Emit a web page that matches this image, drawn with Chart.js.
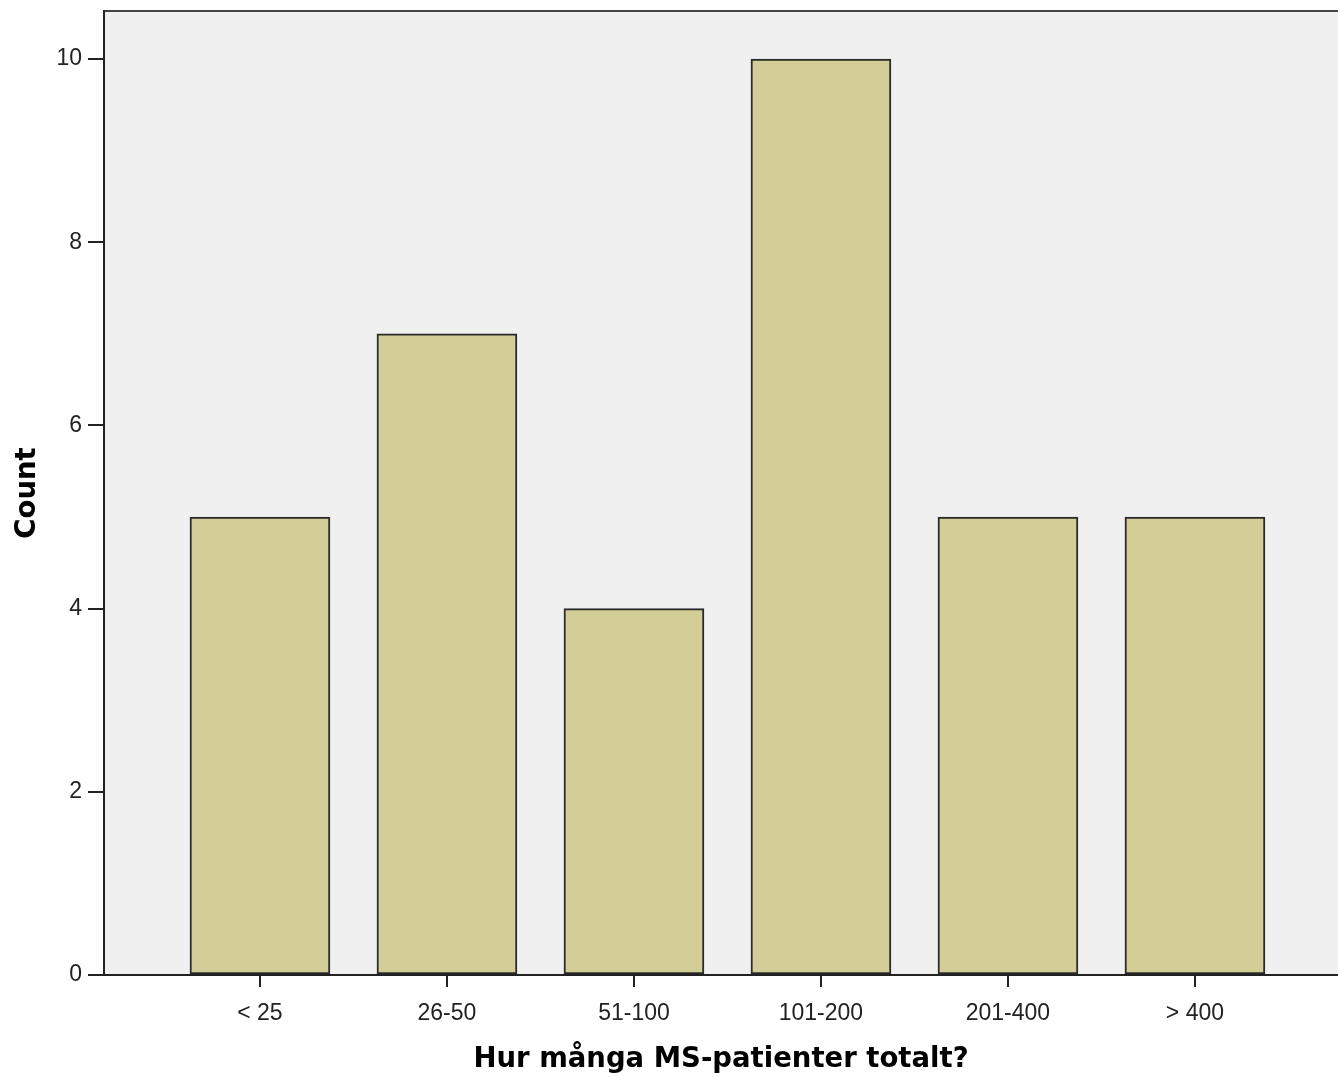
<!DOCTYPE html>
<html>
<head>
<meta charset="utf-8">
<script src="https://cdn.jsdelivr.net/npm/chart.js@4/dist/chart.umd.min.js"></script>
<style>
  html, body { margin: 0; padding: 0; background: #fff; overflow: hidden; }
  #wrap { width: 1338px; height: 1077px; position: relative; }
</style>
</head>
<body>
<div id="wrap"><canvas id="chart"></canvas></div>
<script>
// data
const categories = ['< 25', '26-50', '51-100', '101-200', '201-400', '> 400'];
const counts = [5, 7, 4, 10, 5, 5];
const yTicks = [0, 2, 4, 6, 8, 10];
const xTitle = 'Hur många MS-patienter totalt?';
const yTitle = 'Count';

// plot background + top frame line
const plotFrame = {
  id: 'plotFrame',
  beforeDraw(chart) {
    const { ctx, chartArea: a } = chart;
    ctx.save();
    ctx.fillStyle = '#f0f0f0';
    ctx.fillRect(a.left, a.top, a.right - a.left, a.bottom - a.top);
    ctx.strokeStyle = '#444';
    ctx.lineWidth = 2;
    ctx.beginPath();
    ctx.moveTo(a.left, a.top);
    ctx.lineTo(a.right, a.top);
    ctx.stroke();
    ctx.restore();
  }
};

const tickFont = { family: '"Liberation Sans", Arial, sans-serif', size: 23 };
const titleFont = { family: '"DejaVu Sans", Verdana, sans-serif', size: 27.5, weight: 'bold' };

new Chart(document.getElementById('chart'), {
  type: 'bar',
  data: {
    datasets: [{
      data: counts.map((v, i) => ({ x: i, y: v })),
      backgroundColor: '#d3ce98',
      borderColor: '#2a2a2a',
      borderWidth: 2,
      borderSkipped: false,
      barThickness: 140
    }]
  },
  options: {
    responsive: true,
    maintainAspectRatio: false,
    animation: false,
    layout: { padding: { top: 11, right: 0, bottom: 0, left: 0 } },
    plugins: { legend: { display: false }, tooltip: { enabled: false } },
    scales: {
      x: {
        type: 'linear',
        offset: false,
        min: -0.834,
        max: 5.765,
        afterBuildTicks: s => { s.ticks = categories.map((c, i) => ({ value: i })); },
        afterFit: s => { s.height = 102; s.paddingLeft = 0; s.paddingRight = 0; },
        ticks: {
          callback: v => categories[Math.round(v)],
          font: tickFont,
          color: '#222',
          padding: 13,
          maxRotation: 0,
          autoSkip: false
        },
        grid: { offset: false, drawOnChartArea: false, tickLength: 12, color: '#222', lineWidth: 2 },
        border: { color: '#222', width: 2 },
        title: {
          display: true,
          text: xTitle,
          font: titleFont,
          color: '#000',
          padding: { top: 0, bottom: 1 }
        }
      },
      y: {
        min: 0,
        max: 10.524,
        afterBuildTicks: s => { s.ticks = yTicks.map(v => ({ value: v })); },
        afterFit: s => { s.width = 104; s.paddingTop = 0; s.paddingBottom = 0; },
        ticks: { font: tickFont, color: '#222', padding: 6 },
        grid: { drawOnChartArea: false, tickLength: 16, color: '#222', lineWidth: 2 },
        border: { color: '#222', width: 2 },
        title: {
          display: true,
          text: yTitle,
          font: titleFont,
          color: '#000',
          padding: { top: 11, bottom: 0 }
        }
      }
    }
  },
  plugins: [plotFrame]
});
</script>
</body>
</html>
